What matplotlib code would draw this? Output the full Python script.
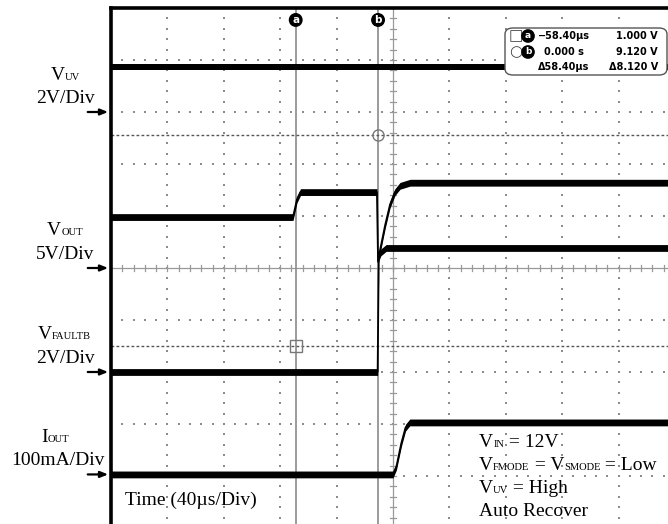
import numpy as np
import matplotlib.pyplot as plt
from matplotlib.patches import FancyBboxPatch

# time base: microseconds, cursor b = 0, 40us/div, 10 divisions
t_left, t_right = -189.4, 210.6

# channel traces
vuv_t = [-189.4, 210.6]
vuv_v = [1.73, 1.73]                                   # V

vout_t = [-189.4, -60.3, -57.5, -55.0, -0.8, 0.0, 1.4, 5.0, 8.5, 12.0, 15.6, 22.7, 210.6]
vout_v = [4.9, 4.9, 6.6, 7.3, 7.3, 0.6, 1.7, 4.1, 6.1, 7.3, 7.9, 8.2, 8.2]   # V

vfault_t = [-189.4, -0.3, 0.5, 2.0, 5.7, 210.6]
vfault_v = [0.0, 0.0, 4.4, 4.6, 4.77, 4.77]           # V

iout_t = [-189.4, 10.6, 13.0, 16.5, 19.5, 22.5, 210.6]
iout_v = [0, 0, 15, 60, 90, 100, 100]                 # mA

# per channel: units per division and ground marker position (divisions from centre)
ch_scale = [2, 5, 2, 100]
ch_ground = [3.0, 0.0, -2.0, -3.97]

# cursors (measured on the VFAULTB channel)
cursor_t = [-58.4, 0.0]
cursor_v = [1.000, 9.120]
readout_time = ['\u221258.40\u00b5s', '0.000 s', '\u039458.40\u00b5s']
readout_volt = ['1.000 V', '9.120 V', '\u03948.120 V']

W, H = 668, 524
SERIF = 'Liberation Serif'
NARROW = ['Liberation Sans Narrow', 'DejaVu Sans']

fig = plt.figure(figsize=(W / 100, H / 100), dpi=100)
ax = fig.add_axes([111 / W, -4 / H, 564 / W, 520 / H])
ax.set_xlim(t_left, t_right)
ax.set_ylim(-5, 5)
ax.set_xticks([])
ax.set_yticks([])
for s in ['right', 'bottom']:
    ax.spines[s].set_visible(False)
for s in ['left', 'top']:
    ax.spines[s].set_linewidth(2.6)

# graticule: dotted major lines, solid centre lines with minor ticks
div_t = 40.0
grid_gray = '#8c8c8c'
for k in range(1, 10):
    tx = t_left + k * div_t
    if k == 5:
        continue
    ys = np.arange(-5, 5.01, 0.2)
    ax.scatter(np.full_like(ys, tx), ys, s=1.6, marker='s', color=grid_gray, lw=0, zorder=1)
for k in range(-4, 5):
    if k == 0:
        continue
    xs = np.arange(t_left, t_right + 0.1, div_t / 5)
    ax.scatter(xs, np.full_like(xs, k), s=1.6, marker='s', color=grid_gray, lw=0, zorder=1)

tc = t_left + 5 * div_t
ax.axvline(tc, color='#999999', lw=0.9, zorder=1)
ax.axhline(0, color='#999999', lw=0.9, zorder=1)
for yy in np.arange(-5, 5.01, 0.2):
    ax.plot([tc - 2.2, tc + 2.2], [yy, yy], color='#999999', lw=0.9, zorder=1)
for xx in np.arange(t_left, t_right + 0.1, div_t / 5):
    ax.plot([xx, xx], [-0.06, 0.06], color='#999999', lw=0.9, zorder=1)

# cursors
for ct in cursor_t:
    ax.axvline(ct, color='#8a8a8a', lw=1.2, zorder=2)
for cv in cursor_v:
    ax.axhline(ch_ground[2] + cv / ch_scale[2], color='#555555', lw=1.0,
               ls=(0, (2, 1.6)), zorder=2)
ax.plot(cursor_t[0], ch_ground[2] + cursor_v[0] / ch_scale[2], marker='s', ms=8,
        mfc='none', mec='#777777', mew=1, zorder=3)
ax.plot(cursor_t[1], ch_ground[2] + cursor_v[1] / ch_scale[2], marker='o', ms=8,
        mfc='none', mec='#777777', mew=1, zorder=3)
for ct, lab in zip(cursor_t, ['a', 'b']):
    ax.text(ct, 4.77, lab, color='white', fontsize=7.5, fontweight='bold',
            ha='center', va='center', zorder=6,
            bbox=dict(boxstyle='circle,pad=0.12', fc='black', ec='black'))

# traces: noisy band look -> thick vertical band plus thin line for steep edges
band = 3.4 / 52
traces = [(vuv_t, vuv_v), (vout_t, vout_v), (vfault_t, vfault_v), (iout_t, iout_v)]
for (tt, vv), sc, g in zip(traces, ch_scale, ch_ground):
    tt = np.array(tt, float)
    y = g + np.array(vv, float) / sc
    ax.fill_between(tt, y - band, y + band, color='black', lw=0, zorder=4)
    ax.plot(tt, y, color='black', lw=1.3, zorder=4)

# ground arrows
for g in ch_ground:
    ax.annotate('', xy=(t_left - 2.0, g), xytext=(t_left - 16.5, g),
                xycoords='data', annotation_clip=False,
                arrowprops=dict(arrowstyle='-|>,head_length=0.45,head_width=0.18',
                                color='black', lw=1.6, shrinkA=0, shrinkB=0))

renderer = fig.canvas.get_renderer()


def text_width(s, size):
    t1 = fig.text(0, 0, '|' + s + '|', fontsize=size, family=SERIF)
    t2 = fig.text(0, 0, '||', fontsize=size, family=SERIF)
    w = t1.get_window_extent(renderer).width - t2.get_window_extent(renderer).width
    t1.remove()
    t2.remove()
    return w


def rich(x, yb, parts, ha='center'):
    widths = [text_width(s, size) for s, size in parts]
    x0 = x - sum(widths) / 2 if ha == 'center' else x
    for (s, size), w in zip(parts, widths):
        fig.text(x0 / W, 1 - yb / H, s, fontsize=size, family=SERIF, va='baseline')
        x0 += w


BIG, SUB = 14, 7.6
rich(65, 80, [('V', BIG), ('UV', SUB)])
rich(65, 103, [('2V/Div', BIG)])
rich(65, 235, [('V', BIG), ('OUT', SUB)])
rich(65, 259, [('5V/Div', BIG)])
rich(64, 339, [('V', BIG), ('FAULTB', SUB)])
rich(65, 363, [('2V/Div', BIG)])
rich(55, 442, [('I', BIG), ('OUT', SUB)])
rich(58, 465, [('100mA/Div', BIG)])
rich(125, 505, [('Time (40\u00b5s/Div)', BIG)], ha='left')

rich(479, 447, [('V', BIG), ('IN', SUB), (' = 12V', BIG)], ha='left')
rich(479, 470, [('V', BIG), ('FMODE', SUB), (' = V', BIG), ('SMODE', SUB), (' = Low', BIG)], ha='left')
rich(479, 493, [('V', BIG), ('UV', SUB), (' = High', BIG)], ha='left')
rich(479, 516, [('Auto Recover', BIG)], ha='left')

# cursor readout box
box = FancyBboxPatch((505 / W, 1 - 75 / H), 162 / W, 47 / H,
                     boxstyle='round,pad=0,rounding_size=0.012',
                     transform=fig.transFigure, fc='white', ec='#555555', lw=1.0, zorder=10)
fig.patches.append(box)
rows_y = [36, 52, 67]
fig.text(516 / W, 1 - rows_y[0] / H, '\u25a1', fontsize=11, family='DejaVu Sans',
         ha='center', va='center', color='#444444', zorder=11)
fig.text(516 / W, 1 - rows_y[1] / H, '\u25cb', fontsize=11, family='DejaVu Sans',
         ha='center', va='center', color='#444444', zorder=11)
for ry, lab in zip(rows_y[:2], ['a', 'b']):
    fig.text(528 / W, 1 - ry / H, lab, fontsize=6.5, fontweight='bold', color='white',
             ha='center', va='center', zorder=12,
             bbox=dict(boxstyle='circle,pad=0.18', fc='black', ec='black'))
for ry, ts, vs in zip(rows_y, readout_time, readout_volt):
    fig.text(564 / W, 1 - ry / H, ts, fontsize=7, family=NARROW, fontweight='bold',
             ha='center', va='center', zorder=11)
    fig.text(658 / W, 1 - ry / H, vs, fontsize=7, family=NARROW, fontweight='bold',
             ha='right', va='center', zorder=11)

fig.savefig('out.png', dpi=100)
